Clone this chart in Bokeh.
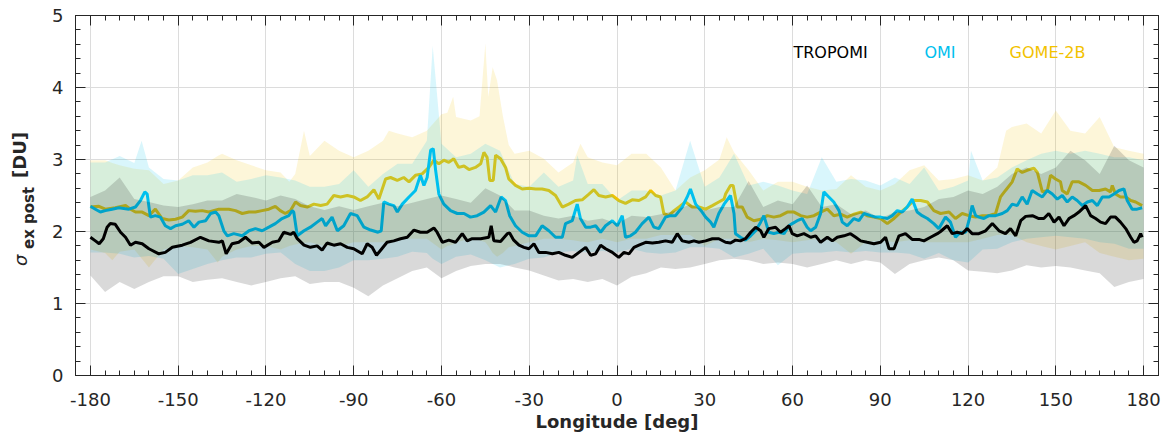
from bokeh.plotting import figure
from bokeh.layouts import row
from bokeh.models import (Range1d, FixedTicker, LinearAxis, Label, CustomJSTickFormatter, Grid, Div)
from bokeh.embed import file_html
from bokeh.resources import INLINE

# ---------------- data ----------------
trop_lon = [-180, -178.3, -177, -175.6, -174.3, -173.2, -171.5, -169.7, -168, -166.3, -164.6, -162.3, -160,
            -156.6, -154.4, -152, -148.6, -145.8, -142.4, -139.5, -136.1, -134.9, -133.6, -131.6, -129.3, -127,
            -124.7, -122.4, -120.7, -117.8, -115.6, -113.9, -111.6, -110.5, -109.3, -107, -104.8, -102.5, -100.8,
            -99.1, -96.8, -94.5, -92.2, -90, -87.1, -85.4, -83.7, -82.2, -80.8, -78.6, -76.3, -74, -71.7, -69.4,
            -67.2, -64.9, -62.6, -61.5, -59.7, -57.5, -55.2, -52.9, -51.2, -49.5, -46.6, -43.8, -43, -42.1, -39.8,
            -37.5, -36.7, -35.3, -33.5, -31.8, -30.1, -28.4, -26.7, -24.4, -22.1, -19.9, -17.6, -15.3, -13, -10.7,
            -9, -7.3, -5.6, -3.9, -1.6, 0.6, 2.4, 4.1, 5.8, 7.5, 9.8, 12.1, 14.3, 16.6, 18.9, 20.6, 22.3, 24.6,
            26.3, 28, 30.3, 32.6, 34.8, 37.1, 38.8, 40.5, 42.2, 43.9, 45.7, 47.4, 49.1, 50.2, 51.9, 54.2, 55.9,
            57.6, 58.8, 59.9, 61.6, 63.9, 66.2, 67.9, 69.6, 71.9, 73.6, 75.3, 77.6, 79.8, 81.6, 83.3, 85.5, 87.8,
            90.1, 91.8, 93, 94.7, 96.4, 98.6, 100.9, 103.2, 104.9, 107.2, 109.5, 110.6, 112.9, 114.6, 116.3, 118,
            119.7, 121.4, 123.7, 126, 128.3, 130.6, 132.8, 134.5, 136.3, 138, 139.7, 142, 144.2, 145.9, 147.6,
            149.4, 151.1, 152.8, 154.5, 156.2, 157.9, 160.2, 161.9, 163.6, 165.3, 167, 168.7, 170.4, 172.1, 173.9,
            175.6, 176.7, 177.8, 179, 179.5]
trop_val = [1.92, 1.87, 1.83, 1.90, 2.06, 2.11, 2.10, 1.99, 1.92, 1.81, 1.85, 1.83, 1.76,
            1.69, 1.71, 1.78, 1.81, 1.85, 1.92, 1.87, 1.85, 1.87, 1.69, 1.83, 1.85, 1.92,
            1.84, 1.85, 1.78, 1.85, 1.87, 1.99, 1.96, 1.99, 1.90, 1.81, 1.78, 1.80, 1.74,
            1.84, 1.81, 1.83, 1.78, 1.76, 1.69, 1.83, 1.78, 1.67, 1.74, 1.85, 1.87, 1.90, 1.92, 2.02,
            1.99, 1.99, 2.05, 1.99, 1.85, 1.88, 1.85, 1.97, 1.87, 1.90, 1.90, 1.92, 2.08, 1.87, 1.86,
            1.97, 1.98, 1.88, 1.81, 1.78, 1.76, 1.83, 1.71, 1.71, 1.69, 1.71, 1.67, 1.64, 1.71, 1.78,
            1.67, 1.69, 1.81, 1.76, 1.71, 1.64, 1.71, 1.69, 1.78, 1.81, 1.85, 1.84, 1.85, 1.87, 1.85, 1.97, 1.87, 1.85,
            1.87, 1.85, 1.87, 1.90, 1.90, 1.85, 1.84, 1.88, 1.87, 1.90, 1.99, 2.06, 2.01, 1.92, 2.04, 2.06, 1.99,
            2.04, 2.08, 1.97, 1.94, 1.97, 1.92, 1.94, 1.85, 1.92, 1.87, 1.92, 1.94, 1.97, 1.92, 1.87, 1.85, 1.83,
            1.85, 1.92, 1.76, 1.76, 1.94, 1.97, 1.89, 1.89, 1.87, 1.92, 1.97, 2.00, 2.08, 1.97, 1.99, 1.97,
            2.04, 1.97, 1.97, 2.01, 2.11, 2.01, 1.97, 2.04, 1.94, 2.15, 2.21, 2.22, 2.18, 2.18, 2.25,
            2.13, 2.20, 2.08, 2.18, 2.22, 2.27, 2.36, 2.22, 2.18, 2.13, 2.11, 2.20, 2.20, 2.13, 2.04,
            1.92, 1.85, 1.87, 1.97, 1.92]

omi_lon = [-180, -178.3, -176.6, -174.9, -172.6, -170.3, -166.9, -164.6, -162.9, -161.4, -160.6, -159.5, -157.8,
           -156.1, -154.4, -152.6, -150.9, -148.6, -146.4, -144.6, -142.9, -140.6, -138.9, -137.2, -136.1, -134.4,
           -133.2, -131, -128.1, -125.8, -123.6, -121.3, -119, -116.8, -114.5, -112.2, -111, -110.5, -109.3, -107,
           -104.8, -102.5, -100.8, -99.6, -97.4, -95.6, -93.4, -91.1, -88.8, -86.5, -84.2, -81.7, -80.6, -79.7,
           -78, -76.3, -75.1, -73.4, -71.1, -68.9, -67.2, -66, -64.9, -63.7, -62.8, -62, -60.9, -59.2, -56.9,
           -54.6, -52.3, -50.1, -47.8, -45.5, -43.2, -41.5, -39.6, -38.1, -36.7, -34.7, -32.4, -30.1, -27.8,
           -25.6, -23.3, -21, -18.7, -17.6, -15.3, -13.6, -12.5, -10.7, -9, -7.3, -5.6, -3.9, -1.6, 0.1, 1.8,
           2.9, 4.6, 6.3, 8.6, 10.9, 12.6, 14.3, 16.6, 18.3, 20, 22.3, 24, 25.1, 26.9, 29.1, 30.3, 32, 33.1,
           34.8, 36.6, 38.8, 40, 40.5, 42.2, 43.9, 45.7, 47.4, 49.1, 50.2, 51.9, 53.6, 55.3, 57.1, 58.8, 59.9,
           61.6, 63.3, 65, 66.2, 67.9, 69.6, 70.7, 72.4, 74.1, 75.9, 77, 78.7, 81, 82.7, 84.4, 86.7, 88.4, 90.1,
           92.4, 94.1, 95.8, 97.5, 99.2, 100.9, 102.6, 104.3, 106.1, 108.3, 110, 112.3, 114, 115.7, 117.4, 119.2,
           120.3, 121.4, 122.6, 123.7, 125.4, 127.1, 129.4, 131.7, 133.4, 135.1, 136.8, 138.5, 140.2, 141.9,
           143.7, 145.4, 147.1, 148.8, 150.5, 152.2, 153.9, 155.6, 157.3, 159.1, 160.8, 162.5, 164.2, 165.9,
           168.2, 169.9, 171.6, 173.3, 174.4, 176.1, 177.8, 179.5]
omi_val = [2.35, 2.31, 2.27, 2.29, 2.31, 2.33, 2.31, 2.34, 2.43, 2.55, 2.52, 2.20, 2.22,
           2.20, 2.08, 2.04, 2.08, 2.10, 2.15, 2.06, 2.13, 2.15, 2.25, 2.27, 2.22, 2.01,
           1.94, 1.97, 1.94, 2.01, 2.04, 2.01, 2.06, 2.11, 2.18, 2.22, 2.29, 2.27, 1.94, 2.01,
           2.06, 2.13, 2.18, 2.08, 2.20, 2.01, 2.08, 2.25, 2.22, 2.06, 2.02, 1.99, 2.01, 2.41,
           2.38, 2.36, 2.27, 2.38, 2.48, 2.57, 2.78, 2.64, 2.75, 3.13, 3.15, 2.85, 2.52, 2.38, 2.29,
           2.25, 2.25, 2.20, 2.22, 2.27, 2.36, 2.27, 2.48, 2.43, 2.22, 2.08, 1.99, 1.94, 1.94,
           2.08, 2.01, 1.92, 1.92, 2.11, 2.15, 2.38, 2.18, 2.06, 2.06, 2.08, 1.99, 2.08, 2.15, 2.08, 2.22,
           1.92, 1.94, 1.99, 2.11, 2.20, 2.06, 2.04, 2.20, 2.22, 2.22, 2.34, 2.48, 2.59, 2.38, 2.27, 2.20, 2.13, 2.06,
           2.25, 2.38, 2.50, 2.25, 1.97, 1.92, 1.88, 1.94, 2.01, 2.13, 2.22, 1.99, 1.97, 1.99, 1.97, 2.08, 2.11,
           2.15, 2.18, 2.06, 2.01, 2.06, 2.25, 2.55, 2.48, 2.41, 2.29, 2.13, 2.08, 2.18, 2.15, 2.25, 2.22, 2.20, 2.20,
           2.18, 2.22, 2.29, 2.27, 2.34, 2.45, 2.27, 2.22, 2.18, 2.11, 2.04, 2.20, 2.13, 1.92, 1.99, 1.99,
           2.15, 2.36, 2.22, 2.20, 2.18, 2.22, 2.22, 2.25, 2.29, 2.38, 2.36, 2.48, 2.38, 2.57,
           2.52, 2.48, 2.57, 2.52, 2.45, 2.50, 2.41, 2.48, 2.43, 2.36, 2.41, 2.43, 2.36, 2.48,
           2.48, 2.52, 2.57, 2.59, 2.43, 2.31, 2.31, 2.33]

gome_lon = [-180, -177.1, -174.9, -171.5, -168, -166.3, -164.6, -162.3, -160, -157.8, -155.5, -153.2, -150.9,
            -148.6, -146.4, -144.1, -141.8, -139.5, -136.1, -132.7, -130.4, -128.1, -125.8, -123.6, -121.3, -119,
            -116.8, -115.1, -113.4, -111.6, -109.9, -108.2, -105.9, -103.6, -101.3, -99.1, -96.8, -94.5, -92.2,
            -90, -87.7, -85.4, -83.1, -81.4, -79.1, -77.4, -75.1, -72.9, -71.1, -68.9, -66.6, -64.3, -62.6, -60.9,
            -59.2, -57.5, -55.8, -54.1, -52.3, -50.6, -48.4, -46.6, -45.5, -44.4, -43.5, -42.3, -41.5, -39.8,
            -38.1, -37, -34.7, -32.4, -30.1, -27.8, -25.6, -23.3, -21, -18.7, -16.5, -14.2, -11.9, -9.6, -7.9,
            -6.2, -3.9, -1.6, 0.6, 2.9, 5.2, 7.5, 9.8, 11.5, 13.2, 14.9, 16, 17.7, 19.5, 21.2, 23.4, 25.7, 28,
            30.3, 32.6, 34.8, 36.6, 37.1, 38.8, 39.7, 41.1, 42.8, 44.5, 46.8, 49.1, 51.4, 53.6, 55.9, 58.2, 60.5,
            62.8, 65, 67.3, 69.6, 71.9, 74.1, 76.4, 78.7, 81, 83.3, 85.5, 87.8, 90.1, 92.4, 94.7, 97, 99.2, 101.5,
            103.8, 106.1, 108.3, 110.6, 113.5, 115.7, 118, 120.3, 122.6, 124.9, 127.1, 129.4, 131.1, 132.8, 135.1,
            136.8, 138.5, 140.2, 142.5, 143.7, 145.4, 147.1, 148.2, 149.9, 151.6, 152.2, 153.9, 155.6, 157.9,
            160.2, 162.5, 164.8, 167, 168.7, 169.3, 170.4, 172.1, 173.9, 175.6, 177.3, 179.5]
gome_val = [2.34, 2.35, 2.31, 2.33, 2.36, 2.31, 2.27, 2.27, 2.22, 2.31, 2.18, 2.16, 2.17,
            2.20, 2.29, 2.28, 2.29, 2.27, 2.31, 2.31, 2.29, 2.25, 2.27, 2.27, 2.29, 2.31,
            2.35, 2.29, 2.25, 2.29, 2.41, 2.36, 2.34, 2.38, 2.36, 2.38, 2.50, 2.48, 2.50,
            2.48, 2.43, 2.48, 2.58, 2.45, 2.73, 2.75, 2.71, 2.75, 2.69, 2.78, 2.80, 2.89, 2.99, 2.94,
            2.99, 2.96, 3.01, 2.89, 2.91, 2.86, 2.89, 2.94, 3.10, 3.03, 2.71, 2.71, 3.06, 3.01,
            2.89, 2.73, 2.64, 2.59, 2.60, 2.59, 2.59, 2.57, 2.50, 2.34, 2.38, 2.43, 2.44, 2.52, 2.58,
            2.50, 2.48, 2.50, 2.43, 2.39, 2.44, 2.43, 2.48, 2.57, 2.50, 2.48, 2.25, 2.22, 2.29, 2.34, 2.41, 2.34, 2.34,
            2.31, 2.36, 2.41, 2.45, 2.52, 2.64, 2.64, 2.34, 2.34, 2.20, 2.15, 2.17, 2.22, 2.20, 2.22, 2.27, 2.27,
            2.22, 2.20, 2.22, 2.27, 2.31, 2.22, 2.24, 2.20, 2.24, 2.27, 2.22, 2.20, 2.18, 2.11, 2.18, 2.27, 2.34, 2.43,
            2.43, 2.41, 2.29, 2.25, 2.27, 2.18, 2.25, 2.22, 2.20, 2.22, 2.22, 2.25, 2.48, 2.57, 2.69,
            2.87, 2.82, 2.85, 2.88, 2.82, 2.55, 2.57, 2.78, 2.73, 2.69, 2.57, 2.52, 2.69, 2.69,
            2.64, 2.57, 2.57, 2.59, 2.55, 2.64, 2.52, 2.48, 2.48, 2.43, 2.41, 2.36]

# bands (spread of each instrument)
band5_lon = list(range(-180, 185, 5))
trop_lo = [1.39, 1.16, 1.30, 1.20, 1.30, 1.38, 1.38, 1.30, 1.33, 1.35, 1.30, 1.25, 1.30, 1.35, 1.38, 1.27, 1.30,
           1.30, 1.22, 1.10, 1.25, 1.35, 1.45, 1.50, 1.35, 1.45, 1.52, 1.55, 1.55, 1.50, 1.46, 1.39, 1.32, 1.34,
           1.30, 1.34, 1.25, 1.37, 1.42, 1.50, 1.48, 1.50, 1.55, 1.60, 1.62, 1.60, 1.55, 1.57, 1.55, 1.50, 1.55,
           1.60, 1.55, 1.60, 1.57, 1.41, 1.55, 1.60, 1.64, 1.60, 1.46, 1.44, 1.42, 1.46, 1.53, 1.50, 1.52, 1.50,
           1.46, 1.42, 1.23, 1.30, 1.34]
trop_hi = [2.48, 2.57, 2.75, 2.45, 2.41, 2.36, 2.34, 2.38, 2.43, 2.43, 2.52, 2.48, 2.43, 2.50, 2.45, 2.35, 2.30,
           2.35, 2.30, 2.35, 2.40, 2.35, 2.40, 2.45, 2.50, 2.45, 2.40, 2.60, 2.50, 2.29, 2.29, 2.22, 2.18, 2.22,
           2.15, 2.18, 2.11, 2.22, 2.20, 2.24, 2.29, 2.38, 2.29, 2.34, 2.34, 2.70, 2.34, 2.43, 2.38, 2.64, 2.34,
           2.38, 2.24, 2.29, 2.18, 2.27, 2.29, 2.34, 2.45, 2.48, 2.57, 2.52, 2.62, 2.80, 2.89, 2.80, 2.89, 3.12,
           2.99, 2.80, 3.19, 2.99, 2.89]
omi_band_lon = [-180, -175, -170, -165, -162.5, -160, -155, -150, -145, -140, -135, -130, -125, -120, -115, -110,
                -105, -100, -95, -90, -85, -80, -75, -70, -65, -63, -60, -55, -50, -45, -40, -35, -30, -25, -20,
                -15, -13.6, -10, -5, 0, 5, 10, 15, 20, 25, 30, 35, 40, 45, 50, 55, 60, 65, 70, 75, 80, 85, 90,
                95, 100, 105, 110, 115, 120, 121, 125, 130, 135, 140, 145, 150, 155, 160, 165, 170, 175, 180]
omi_lo = [1.71, 1.71, 1.69, 1.64, 1.65, 1.66, 1.62, 1.41, 1.48, 1.55, 1.60, 1.64, 1.64, 1.69, 1.71, 1.55,
          1.45, 1.45, 1.50, 1.60, 1.60, 1.62, 1.65, 1.72, 1.70, 1.62, 1.55, 1.65, 1.68, 1.60, 1.50, 1.55, 1.62,
          1.64, 1.71, 1.73, 1.72, 1.71, 1.73, 1.71, 1.76, 1.71, 1.69, 1.71, 1.78, 1.78, 1.76, 1.64, 1.69, 1.76,
          1.53, 1.69, 1.71, 1.71, 1.73, 1.71, 1.73, 1.71, 1.71, 1.69, 1.62, 1.70, 1.60, 1.57, 1.60, 1.75, 1.76,
          1.85, 1.90, 1.92, 1.94, 1.92, 1.90, 1.85, 1.83, 1.76, 1.76]
omi_hi = [2.96, 2.96, 3.05, 2.95, 3.26, 2.89, 2.73, 2.71, 2.78, 2.78, 2.82, 2.69, 2.73, 2.78, 2.75, 2.71,
          2.62, 2.62, 2.66, 2.85, 2.62, 2.80, 2.94, 2.94, 3.26, 4.58, 3.22, 3.03, 3.08, 3.22, 3.12, 2.66, 2.62,
          2.82, 2.62, 2.71, 3.06, 2.66, 2.66, 2.43, 2.57, 2.57, 2.50, 2.57, 3.26, 2.62, 2.75, 3.08, 2.64, 2.69,
          2.64, 2.57, 2.52, 3.03, 2.69, 2.73, 2.71, 2.64, 2.75, 2.66, 2.89, 2.57, 2.62, 2.71, 3.12, 2.71, 2.75,
          2.89, 2.99, 3.08, 3.12, 3.08, 3.12, 3.08, 3.03, 3.03, 2.99]
gome_band_lon = [-180, -175, -172.5, -170, -165, -160, -155, -150, -145, -140, -136.5, -135, -130, -125, -120,
                 -115, -112, -110, -107, -105, -100, -95, -90, -85, -80, -78, -75, -70, -65, -60, -58, -56, -55,
                 -50, -47, -45, -44, -42.5, -41, -39, -37, -35, -30, -25, -20, -15, -12.5, -10, -5, 0, 5, 10, 15,
                 20, 25, 30, 35, 37.5, 40, 45, 50, 55, 60, 65, 70, 75, 80, 85, 90, 95, 100, 105, 110, 115, 120,
                 125, 130, 133, 135, 140, 145, 150, 155, 160, 165, 170, 175, 180]
gome_lo = [1.75, 1.70, 1.60, 1.72, 1.75, 1.50, 1.75, 1.80, 1.78, 1.75, 1.57, 1.65, 1.75, 1.80, 1.80,
           1.75, 1.80, 1.82, 1.84, 1.85, 1.80, 1.80, 1.85, 1.85, 1.85, 1.87, 1.90, 1.90, 1.90, 1.75, 1.80, 1.82,
           1.85, 1.90, 1.88, 1.85, 1.80, 1.70, 1.65, 1.70, 1.78, 1.80, 1.85, 1.90, 1.90, 1.88, 1.86, 1.85, 1.90,
           1.85, 1.90, 1.90, 1.95, 1.95, 1.95, 1.80, 1.90, 1.90, 1.90, 1.85, 1.90, 1.88, 1.85, 1.88, 1.90, 1.85,
           1.69, 1.85, 1.88, 1.85, 1.88, 1.85, 1.85, 1.85, 1.85, 1.90, 1.95, 1.95, 1.95, 1.85, 1.80, 1.75, 1.80,
           1.85, 1.70, 1.65, 1.60, 1.62]
gome_hi = [2.99, 2.99, 2.95, 2.92, 2.87, 2.85, 2.66, 2.71, 2.89, 2.96, 3.05, 3.08, 2.99, 2.92, 2.85,
           2.82, 2.69, 2.80, 3.40, 3.05, 3.26, 3.12, 3.03, 3.12, 3.26, 3.40, 3.36, 3.31, 3.40, 3.63, 3.65, 3.87,
           3.59, 3.54, 3.60, 4.61, 3.87, 4.28, 4.10, 3.60, 3.20, 3.08, 3.12, 3.01, 2.82, 2.96, 3.22, 3.03, 2.96,
           2.92, 3.08, 3.08, 2.89, 2.57, 2.75, 2.85, 3.00, 3.31, 3.10, 2.85, 2.57, 2.69, 2.69, 2.62, 2.57, 2.59,
           2.78, 2.62, 2.57, 2.66, 2.85, 2.92, 2.71, 2.73, 2.78, 2.71, 2.89, 3.40, 3.45, 3.50, 3.36, 3.68, 3.40,
           3.36, 3.59, 3.17, 3.12, 3.08]

series_names = ["TROPOMI", "OMI", "GOME-2B"]
x_ticks = [-180, -150, -120, -90, -60, -30, 0, 30, 60, 90, 120, 150, 180]
y_ticks = [0, 1, 2, 3, 4, 5]

# ---------------- styling ----------------
C_TROP = "#000000"
C_OMI = "#00C0EE"
C_GOME = "#F2C200"
AX = "#262626"
FONT = "DejaVu Sans"
FIG_H = 436
LEFT_W = 48


def rot_span(text, left, bottom, size, style):
    # vertical text reading bottom-to-top; its start sits at (left, bottom)
    return ('<span style="position:absolute;left:%dpx;top:%dpx;transform:rotate(-90deg);'
            'transform-origin:0 0;white-space:nowrap;line-height:1;font-family:\'DejaVu Sans\';'
            'font-size:%dpx;color:%s;%s">%s</span>' % (left, bottom, size, AX, style, text))


ylabel_html = ('<div style="position:relative;width:%dpx;height:%dpx;">' % (LEFT_W, FIG_H)
               + rot_span("σ", 12, 266, 18, "font-style:italic;")
               + rot_span("ex post", 22, 249, 15, "font-weight:bold;")
               + rot_span("[DU]", 11, 178, 18, "font-weight:bold;")
               + '</div>')
ylab = Div(text=ylabel_html, width=LEFT_W, height=FIG_H, margin=0)

p = figure(width=1162 - LEFT_W, height=FIG_H, output_backend="svg", toolbar_location=None,
           x_range=Range1d(-185.1, 185.1), y_range=Range1d(0, 5),
           min_border_left=75 - LEFT_W, min_border_right=4, min_border_top=15, min_border_bottom=61,
           x_axis_type=None, y_axis_type=None)
p.background_fill_color = "white"
p.border_fill_color = "white"
p.outline_line_color = AX
p.outline_line_width = 1

xminor = [v for v in range(-185, 186, 5) if v % 30 != 0]
yminor = [round(0.2 * i, 1) for i in range(0, 26) if i % 5 != 0]
xt = FixedTicker(ticks=x_ticks, minor_ticks=xminor)
yt = FixedTicker(ticks=y_ticks, minor_ticks=yminor)


def style_axis(ax, labels=True):
    ax.axis_line_color = AX
    ax.major_tick_line_color = AX
    ax.minor_tick_line_color = AX
    ax.major_tick_in = 10
    ax.major_tick_out = 0
    ax.minor_tick_in = 5
    ax.minor_tick_out = 0
    ax.major_label_text_font = FONT
    ax.major_label_text_font_size = "18px"
    ax.major_label_text_color = AX
    if not labels:
        ax.formatter = CustomJSTickFormatter(code="return ''")
        ax.major_label_standoff = 0


xb = LinearAxis(ticker=xt)
style_axis(xb)
xb.major_label_overrides = {t: str(t) for t in x_ticks}
xb.major_label_standoff = 17
xb.axis_label = "Longitude [deg]"
xb.axis_label_text_font = FONT
xb.axis_label_text_font_style = "bold"
xb.axis_label_text_font_size = "18px"
xb.axis_label_text_color = AX
xb.axis_label_standoff = 2
p.add_layout(xb, "below")

yl = LinearAxis(ticker=yt)
style_axis(yl)
yl.major_label_overrides = {t: str(t) for t in y_ticks}
yl.major_label_standoff = 12
p.add_layout(yl, "left")

xtop = LinearAxis(ticker=xt)
style_axis(xtop, labels=False)
p.add_layout(xtop, "above")
yr = LinearAxis(ticker=yt)
style_axis(yr, labels=False)
p.add_layout(yr, "right")

p.add_layout(Grid(dimension=0, ticker=xt, grid_line_color="#dcdcdc", grid_line_width=1))
p.add_layout(Grid(dimension=1, ticker=yt, grid_line_color="#dcdcdc", grid_line_width=1))

# each instrument: translucent band, then its mean line
p.varea(x=gome_band_lon, y1=gome_lo, y2=gome_hi, fill_color=C_GOME, fill_alpha=0.15)
p.line(gome_lon, gome_val, line_color=C_GOME, line_width=3)
p.varea(x=omi_band_lon, y1=omi_lo, y2=omi_hi, fill_color=C_OMI, fill_alpha=0.15)
p.line(omi_lon, omi_val, line_color=C_OMI, line_width=3)
p.varea(x=band5_lon, y1=trop_lo, y2=trop_hi, fill_color=C_TROP, fill_alpha=0.15)
p.line(trop_lon, trop_val, line_color=C_TROP, line_width=3)

# legend as coloured text
for name, col, lx in zip(series_names, [C_TROP, C_OMI, C_GOME], [60.3, 105.1, 134.2]):
    p.add_layout(Label(x=lx, y=4.49, text=name, text_color=col, text_font=FONT,
                       text_font_size="16px", text_align="left", text_baseline="middle"))

layout = row(ylab, p, spacing=0)
open("out.html", "w").write(file_html(layout, INLINE))
